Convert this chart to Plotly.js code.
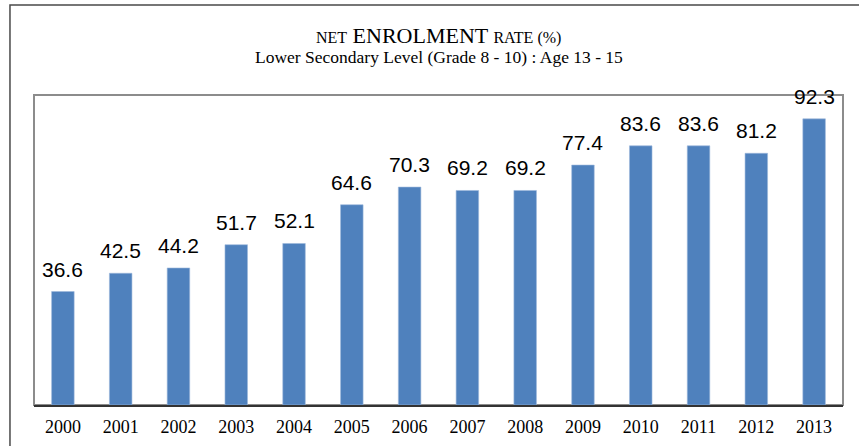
<!DOCTYPE html>
<html>
<head>
<meta charset="utf-8">
<script src="https://cdn.plot.ly/plotly-3.0.1.min.js"></script>
<style>html,body{margin:0;padding:0;background:#fff;}#chart{width:859px;height:446px;}</style>
</head>
<body>
<div id="chart"></div>
<script>
const years = ["2000","2001","2002","2003","2004","2005","2006","2007","2008","2009","2010","2011","2012","2013"];
const rates = [36.6, 42.5, 44.2, 51.7, 52.1, 64.6, 70.3, 69.2, 69.2, 77.4, 83.6, 83.6, 81.2, 92.3];
const titleMain = "<span style='font-size:16px'>NET</span> ENROLMENT <span style='font-size:16px'>RATE (%)</span>";
const subTitle = "Lower Secondary Level (Grade 8 - 10) : Age 13 - 15";

const trace = {
  type: 'bar',
  x: years,
  y: rates,
  marker: {color: '#4F81BD', line: {color: '#9DB8DC', width: 0.6}},
  width: 0.39,
  hoverinfo: 'x+y'
};

const labelAnns = years.map((yr, i) => ({
  x: i, y: rates[i], xref: 'x', yref: 'y',
  text: rates[i].toFixed(1), showarrow: false,
  yanchor: 'bottom', xanchor: 'center', yshift: 9,
  font: {family: 'Liberation Sans, Arial, sans-serif', size: 21, color: '#000'}
}));

const layout = {
  width: 859, height: 446,
  margin: {l: 34, r: 16, t: 95, b: 41},
  paper_bgcolor: '#fff', plot_bgcolor: '#fff',
  showlegend: false,
  xaxis: {
    type: 'category', range: [-0.5, years.length - 0.5],
    showline: true, linecolor: '#333', linewidth: 2,
    showgrid: false, zeroline: false, ticks: '', ticklabelstandoff: 4,
    tickfont: {family: 'Liberation Serif, Times New Roman, serif', size: 18, color: '#000'}
  },
  yaxis: {
    range: [0, 100], visible: false, showgrid: false, zeroline: false, fixedrange: true
  },
  shapes: [
    {type: 'rect', xref: 'paper', yref: 'paper', x0: 0, x1: 1, y0: 0, y1: 1,
     line: {color: '#8c8c8c', width: 2}, layer: 'below'},
    {type: 'rect', xref: 'paper', yref: 'paper', x0: -0.0297, x1: 1.06, y0: -0.3, y1: 1.2903,
     line: {color: '#4a4a4a', width: 1.5}, layer: 'below'}
  ],
  annotations: labelAnns.concat([
    {xref: 'paper', yref: 'paper', x: 0.5, y: 1.1935, xanchor: 'center', yanchor: 'middle',
     showarrow: false, text: titleMain,
     font: {family: 'Liberation Serif, Times New Roman, serif', size: 22, color: '#000'}},
    {xref: 'paper', yref: 'paper', x: 0.5, y: 1.1226, xanchor: 'center', yanchor: 'middle',
     showarrow: false, text: subTitle,
     font: {family: 'Liberation Serif, Times New Roman, serif', size: 17.5, color: '#000'}}
  ])
};

Plotly.newPlot('chart', [trace], layout, {displayModeBar: false, staticPlot: true});
</script>
</body>
</html>
